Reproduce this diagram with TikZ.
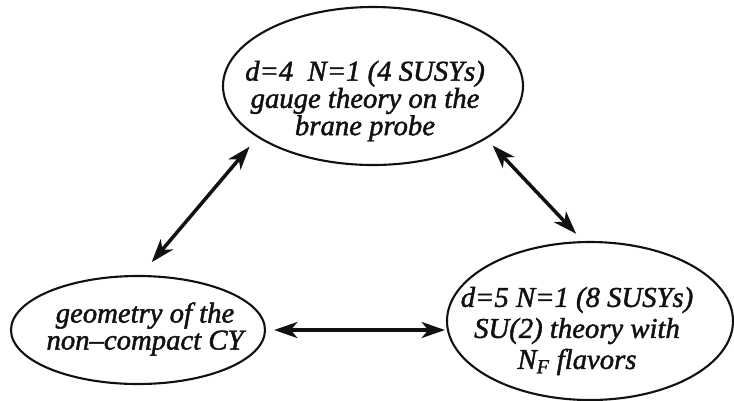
\documentclass[tikz,border=0pt]{standalone}
\usepackage{fontspec}
\setmainfont{Liberation Serif}[ItalicFeatures={FakeBold=1.6}]
\usepackage{tikz}
\usetikzlibrary{arrows.meta,positioning,shapes.geometric,calc}
\definecolor{ink}{HTML}{111111}
\tikzset{
  oval/.style={draw=ink,ellipse,line width=1.8pt,inner sep=0pt},
  ovaltext/.style={align=center,text=ink,inner sep=0pt,
                   font=\fontsize{24.5}{21.5}\selectfont\itshape},
  dblarr/.style={{Stealth[length=7mm,width=4.8mm,inset=2mm]}-{Stealth[length=7mm,width=4.8mm,inset=2mm]},
                 line width=3pt,draw=ink}
}
\begin{document}
\begin{tikzpicture}[x=0.3mm,y=-0.3mm]
  \useasboundingbox (0,0) rectangle (734,400);
  % the three ellipses
  \node[oval,minimum width=90mm,minimum height=47.4mm] (fourD) at (373,86) {};
  \node[oval,minimum width=76.2mm,minimum height=32.4mm] (geom) at (138,330) {};
  \node[oval,minimum width=85.8mm,minimum height=47.4mm] (fiveD) at (590,321) {};
  \node[ovaltext] (fourDtxt) at (365,101) {d=4\ \ N=1 (4 SUSYs)\\gauge theory on the\\brane probe};
  \node[ovaltext,font=\fontsize{24.5}{23}\selectfont\itshape] (geomtxt) at (145,329) {geometry of the\\non--compact CY};
  \node[ovaltext,font=\fontsize{24.5}{26.5}\selectfont\itshape] (fiveDtxt) at (577,331)
    {d=5 N=1 (8 SUSYs)\\SU(2) theory with\\N\textsubscript{F} flavors};
  % arrows
  \draw[dblarr,shorten <=3.6mm,shorten >=5mm] (fourD.204) -- (geom.87);
  \draw[dblarr,shorten <=2.7mm,shorten >=3mm] (fourD.335) -- (fiveD.95);
  \draw[dblarr,shorten <=2.4mm,shorten >=0.3mm] (geom.east) -- (geom.east -| fiveD.west);
\end{tikzpicture}
\end{document}
